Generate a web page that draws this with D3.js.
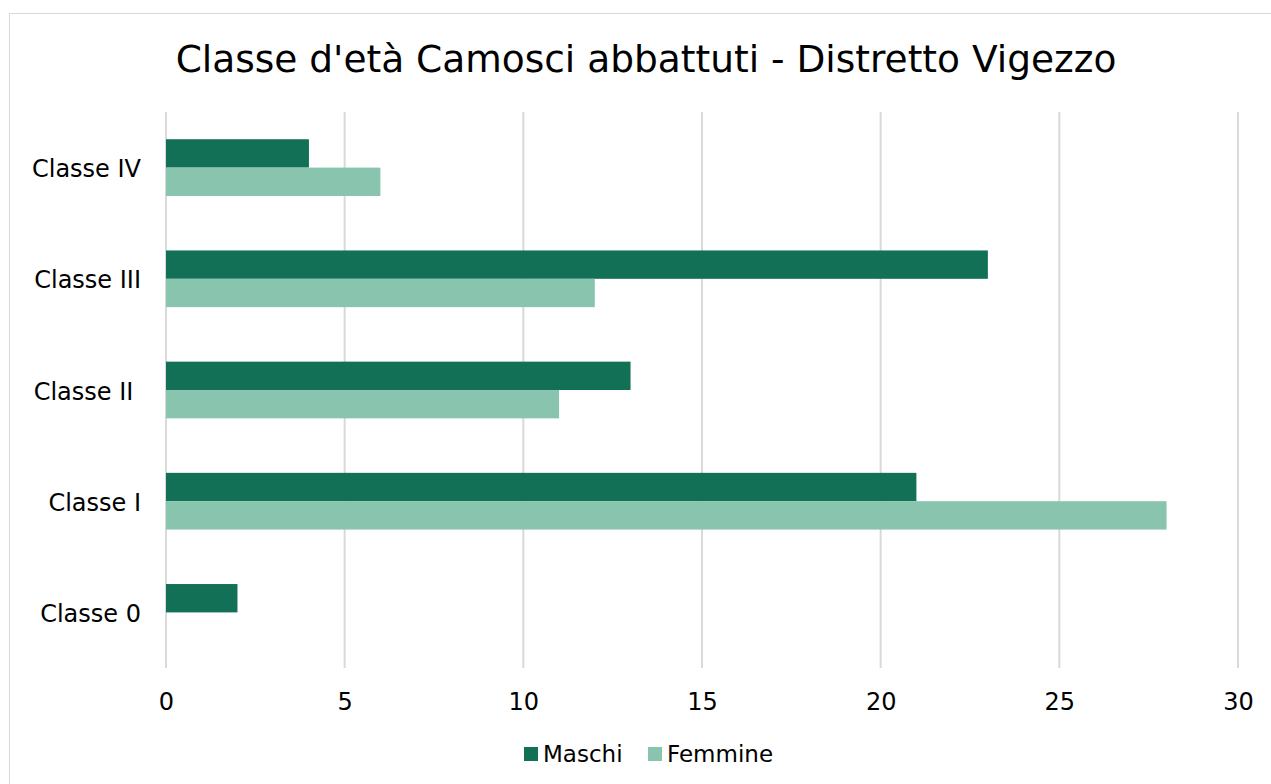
<!DOCTYPE html>
<html>
<head>
<meta charset="utf-8">
<script src="https://cdn.jsdelivr.net/npm/d3@7"></script>
<style>
  body { margin: 0; background: #fff; }
  svg { display: block; font-family: "DejaVu Sans", Verdana, sans-serif; }
</style>
</head>
<body>
<svg class="chart"></svg>
<script>
/* data */
const categories = ['Classe IV', 'Classe III', 'Classe II ', 'Classe I', 'Classe 0']
const maschi = [4, 23, 13, 21, 2]
const femmine = [6, 12, 11, 28, 0]
const seriesNames = ['Maschi', 'Femmine']
const xTicks = [0, 5, 10, 15, 20, 25, 30]

const W = 1271, H = 784
const FONT = '"DejaVu Sans", Verdana, sans-serif'
const colors = { Maschi: '#117055', Femmine: '#88c4ae' }
const margin = { top: 112, right: 33, bottom: 116, left: 166 }

const svg = d3.select('.chart').attr('width', W).attr('height', H)

// outer border
svg.append('rect')
  .attr('x', 9.5).attr('y', 13.5)
  .attr('width', W + 10).attr('height', H + 10)
  .attr('fill', 'none').attr('stroke', '#d9d9d9')

svg.append('text')
  .attr('x', 646).attr('y', 72)
  .attr('text-anchor', 'middle')
  .attr('font-size', '37.5px')
  .attr('fill', '#000')
  .text("Classe d'età Camosci abbattuti - Distretto Vigezzo")

const x = d3.scaleLinear().domain([0, 30]).range([margin.left, W - margin.right])
const y = d3.scaleBand().domain(categories).range([margin.top, H - margin.bottom])
  .paddingInner(0.49).paddingOuter(0.245)
const y1 = d3.scaleBand().domain(seriesNames).range([0, y.bandwidth()])

// gridlines
svg.append('g').selectAll('line')
  .data(xTicks).enter().append('line')
  .attr('x1', d => x(d)).attr('x2', d => x(d))
  .attr('y1', margin.top).attr('y2', H - margin.bottom)
  .attr('stroke', '#d9d9d9').attr('stroke-width', 2)

// x tick labels
const xAxis = svg.append('g')
  .attr('transform', `translate(0,${H - margin.bottom})`)
  .call(d3.axisBottom(x).tickValues(xTicks).tickSize(0).tickPadding(25))
xAxis.select('.domain').remove()
xAxis.selectAll('text').attr('font-size', '24px').attr('fill', '#000')
  .attr('font-family', FONT)

// category labels
const yAxis = svg.append('g')
  .attr('transform', `translate(${margin.left},0)`)
  .call(d3.axisLeft(y).tickSize(0).tickPadding(25))
yAxis.select('.domain').remove()
yAxis.selectAll('text').attr('font-size', '24px').attr('fill', '#000')
  .attr('font-family', FONT).attr('dy', '0.4em')
  .style('white-space', 'pre')

// bars
const rows = categories.map((c, i) => ({ c, Maschi: maschi[i], Femmine: femmine[i] }))
const groups = svg.append('g').selectAll('g')
  .data(rows).enter().append('g')
  .attr('transform', d => `translate(0,${y(d.c)})`)
groups.selectAll('rect')
  .data(d => seriesNames.map(k => ({ k, v: d[k] })))
  .enter().append('rect')
  .attr('x', x(0))
  .attr('y', d => y1(d.k))
  .attr('width', d => x(d.v) - x(0))
  .attr('height', y1.bandwidth())
  .attr('fill', d => colors[d.k])

// legend
const legend = svg.append('g').attr('transform', 'translate(524,754)')
const items = [{ k: 'Maschi', dx: 0 }, { k: 'Femmine', dx: 124 }]
const li = legend.selectAll('g').data(items).enter().append('g')
  .attr('transform', d => `translate(${d.dx},0)`)
li.append('rect').attr('x', 0).attr('y', -7).attr('width', 14).attr('height', 14)
  .attr('fill', d => colors[d.k])
li.append('text').attr('x', 19).attr('y', 8).attr('font-size', '23px')
  .attr('fill', '#000').text(d => d.k)
</script>
</body>
</html>
